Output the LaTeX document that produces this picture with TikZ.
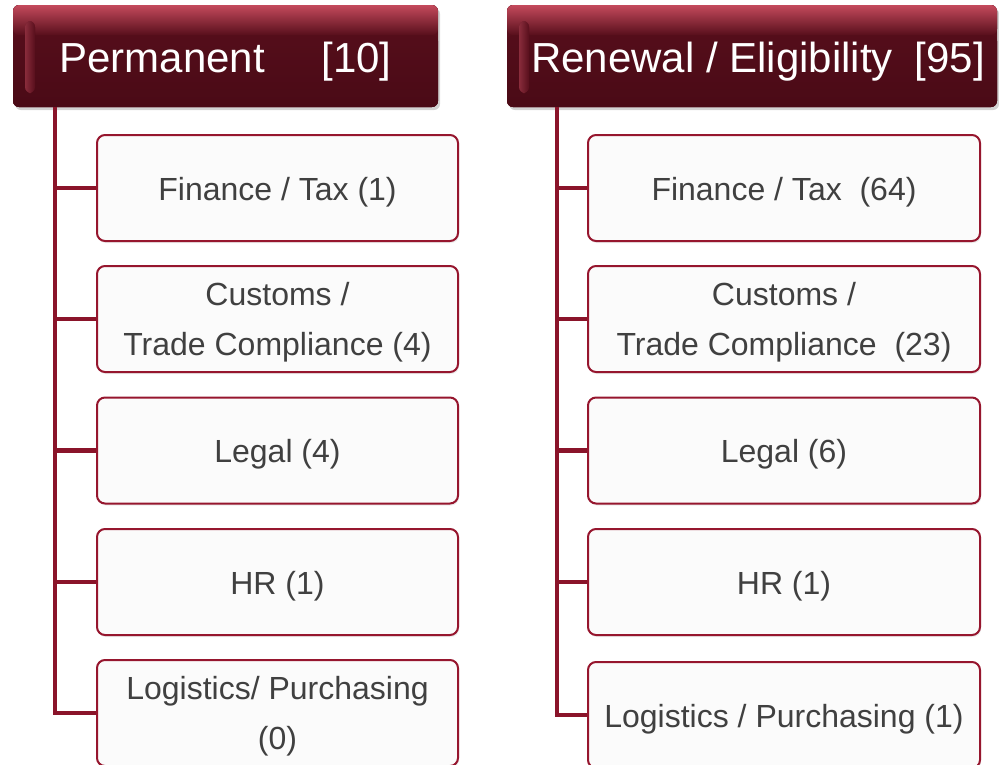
\documentclass[tikz,border=0pt]{standalone}
\usepackage{fontspec}
\setmainfont{Liberation Sans}
\usepackage{xcolor}
\usepackage{tikz}
\usetikzlibrary{positioning, shadows}
\definecolor{hdrface}{RGB}{88,15,28}
\definecolor{hdrdeep}{RGB}{74,10,22}
\definecolor{hdrrim}{RGB}{196,74,92}
\definecolor{hdrside}{RGB}{150,52,68}
\definecolor{linkred}{RGB}{138,20,42}
\definecolor{boxedge}{RGB}{150,22,46}
\definecolor{boxfill}{RGB}{251,251,251}
\definecolor{textgray}{RGB}{64,64,64}
\tikzset{
  header/.style ={rectangle, rounded corners=6pt, fill=hdrface,
                  text=white, inner sep=0pt, minimum height=102pt,
                  text height=32pt, text depth=0pt,
                  font=\fontsize{42}{48}\selectfont,
                  drop shadow={opacity=0.35, shadow xshift=2pt, shadow yshift=-3pt},
                  path picture={
                    \fill[bottom color=hdrdeep, top color=hdrface]
                      ([yshift=-30pt]path picture bounding box.north west)
                      rectangle (path picture bounding box.south east);
                    \fill[top color=hdrrim, bottom color=hdrface]
                      (path picture bounding box.north west)
                      rectangle ([yshift=-30pt]path picture bounding box.north east);
                    \fill[left color=hdrside, right color=hdrface, opacity=0.8]
                      ([shift={(12pt,-16pt)}]path picture bounding box.north west)
                      rectangle ([shift={(22pt,14pt)}]path picture bounding box.south west);
                  }},
  catbox/.style ={rectangle, rounded corners=8pt, draw=boxedge, line width=2pt,
                  fill=boxfill, text=textgray, inner sep=0pt, minimum height=106pt,
                  align=center, font=\fontsize{32}{50}\selectfont,
                  drop shadow={opacity=0.15, shadow xshift=1pt, shadow yshift=-2pt}},
  oneline/.style={text height=24pt, text depth=0pt},
  twoline/.style={text depth=0pt},
  link/.style   ={draw=linkred, line width=4.5pt},
}

\begin{document}
\begin{tikzpicture}[x=1pt, y=-1pt]
\useasboundingbox (0,0) rectangle (999,764);

% headers
\node[header, minimum width=425pt] (perm) at (225.5, 56)
  {Permanent\hspace{45pt} [10]};
\node[header, minimum width=490pt] (renew) at (752, 56)
  {\hspace*{12pt}Renewal / Eligibility\hspace{22pt}[95]};

\coordinate (pspine) at ([xshift=42pt]perm.south west);
\coordinate (rspine) at ([xshift=50pt]renew.south west);

% permanent column
\node[catbox, oneline, minimum width=361pt] (p1) at (277.5, 188) {Finance / Tax (1)};
\node[catbox, twoline, minimum width=361pt] (p2) at (277.5, 319) {Customs /\\Trade Compliance (4)};
\node[catbox, oneline, minimum width=361pt] (p3) at (277.5, 450.5) {Legal (4)};
\node[catbox, oneline, minimum width=361pt] (p4) at (277.5, 582) {HR (1)};
\node[catbox, twoline, minimum width=361pt] (p5) at (277.5, 713) {Logistics/ Purchasing\\(0)};

% renewal column
\node[catbox, oneline, minimum width=392pt] (r1) at (784, 188) {Finance / Tax \ (64)};
\node[catbox, twoline, minimum width=392pt] (r2) at (784, 319) {Customs /\\Trade Compliance \ (23)};
\node[catbox, oneline, minimum width=392pt] (r3) at (784, 450.5) {Legal (6)};
\node[catbox, oneline, minimum width=392pt] (r4) at (784, 582) {HR (1)};
\node[catbox, oneline, minimum width=392pt] (r5) at (784, 715) {Logistics / Purchasing (1)};

\draw[link] (pspine) |- (p1.west);
\draw[link] (pspine) |- (p2.west);
\draw[link] (pspine) |- (p3.west);
\draw[link] (pspine) |- (p4.west);
\draw[link] (pspine) |- (p5.west);

\draw[link] (rspine) |- (r1.west);
\draw[link] (rspine) |- (r2.west);
\draw[link] (rspine) |- (r3.west);
\draw[link] (rspine) |- (r4.west);
\draw[link] (rspine) |- (r5.west);
\end{tikzpicture}
\end{document}
